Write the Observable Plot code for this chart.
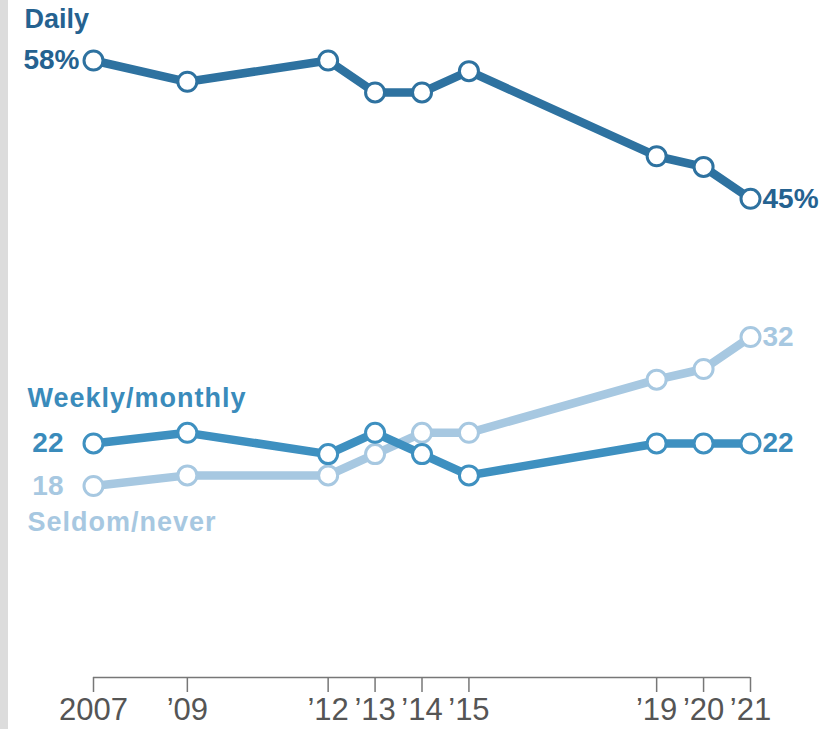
<!DOCTYPE html>
<html>
<head>
<meta charset="utf-8">
<script src="https://cdn.jsdelivr.net/npm/d3@7"></script>
<script src="https://cdn.jsdelivr.net/npm/@observablehq/plot@0.6"></script>
<style>
  html, body { margin: 0; padding: 0; background: #fff; }
  #wrap { position: relative; width: 820px; height: 729px; overflow: hidden; }
  #bar { position: absolute; left: 0; top: 0; width: 8px; height: 729px; background: #dcdcdc; }
  #chart { position: absolute; left: 0; top: 0; }
</style>
</head>
<body>
<div id="wrap"><div id="bar"></div><div id="chart"></div></div>
<script>
const years = [2007, 2009, 2012, 2013, 2014, 2015, 2019, 2020, 2021];
const tickLabels = ["2007", "’09", "’12", "’13", "’14", "’15", "’19", "’20", "’21"];
const seriesNames = ["Daily", "Weekly/monthly", "Seldom/never"];
const daily = [58, 56, 58, 55, 55, 57, 49, 48, 45];
const weekly = [22, 23, 21, 23, 21, 19, 22, 22, 22];
const seldom = [18, 19, 19, 21, 23, 23, 28, 29, 32];
const colors = ["#2e72a0", "#3e90c0", "#a7c8e1"];
const labelColors = ["#256290", "#3a8bbb", "#a7c8e1"];

const seriesValues = [daily, weekly, seldom];
const rows = [];
seriesNames.forEach((s, si) => years.forEach((yr, i) => rows.push({series: s, si, year: yr, value: seriesValues[si][i]})));
const firstRows = seriesNames.map((s, si) => ({series: s, si, year: years[0], value: seriesValues[si][0]}));
const lastRows = seriesNames.map((s, si) => ({series: s, si, year: years[years.length - 1], value: seriesValues[si][years.length - 1]}));
const valText = d => d.si === 0 ? d.value + "%" : String(d.value);

const font = "'Liberation Sans', Arial, sans-serif";
const lineOrder = [2, 1, 0];
const startDx = [-14, -30, -30];
const nameDx = [-69, -66, -66];
const nameDy = [-41, -45, 36];
const nameSpacing = ["0px", "1px", "1px"];

const marks = [
  Plot.ruleY([0], {stroke: "#777", strokeWidth: 1.5}),
  Plot.axisX({ticks: years, tickFormat: d => tickLabels[years.indexOf(d)], tickSize: 15, tickPadding: 5, fontSize: 31, stroke: "#777", strokeWidth: 1.5, color: "#555", label: null}),
];
lineOrder.forEach(si => {
  marks.push(Plot.line(rows.filter(r => r.si === si), {x: "year", y: "value", stroke: colors[si], strokeWidth: 8.5, strokeLinejoin: "round"}));
});
lineOrder.forEach(si => {
  marks.push(Plot.dot(rows.filter(r => r.si === si), {x: "year", y: "value", r: 9.5, fill: "white", stroke: colors[si], strokeWidth: 3}));
});
[0, 1, 2].forEach(si => {
  marks.push(Plot.text([firstRows[si]], {x: "year", y: "value", text: valText, textAnchor: "end", dx: startDx[si], fill: labelColors[si], fontSize: 28, fontWeight: "bold"}));
  marks.push(Plot.text([lastRows[si]], {x: "year", y: "value", text: valText, textAnchor: "start", dx: 12, fill: labelColors[si], fontSize: 28, fontWeight: "bold"}));
  marks.push(Plot.text([firstRows[si]], {x: "year", y: "value", text: "series", textAnchor: "start", dx: nameDx[si], dy: nameDy[si], fill: labelColors[si], fontSize: 27, fontWeight: "bold", className: "name-" + si}));
});

const svg = Plot.plot({
  width: 820,
  height: 729,
  marginLeft: 93,
  marginRight: 70,
  marginTop: 60,
  marginBottom: 52,
  x: {domain: [2007, 2021], axis: null},
  y: {domain: [0, 58], axis: null},
  style: {fontFamily: font, background: "transparent", overflow: "visible"},
  marks
});
svg.querySelectorAll("text").forEach(t => {
  const i = seriesNames.indexOf(t.textContent);
  if (i >= 0) t.style.letterSpacing = nameSpacing[i];
});
document.getElementById("chart").appendChild(svg);
</script>
</body>
</html>
